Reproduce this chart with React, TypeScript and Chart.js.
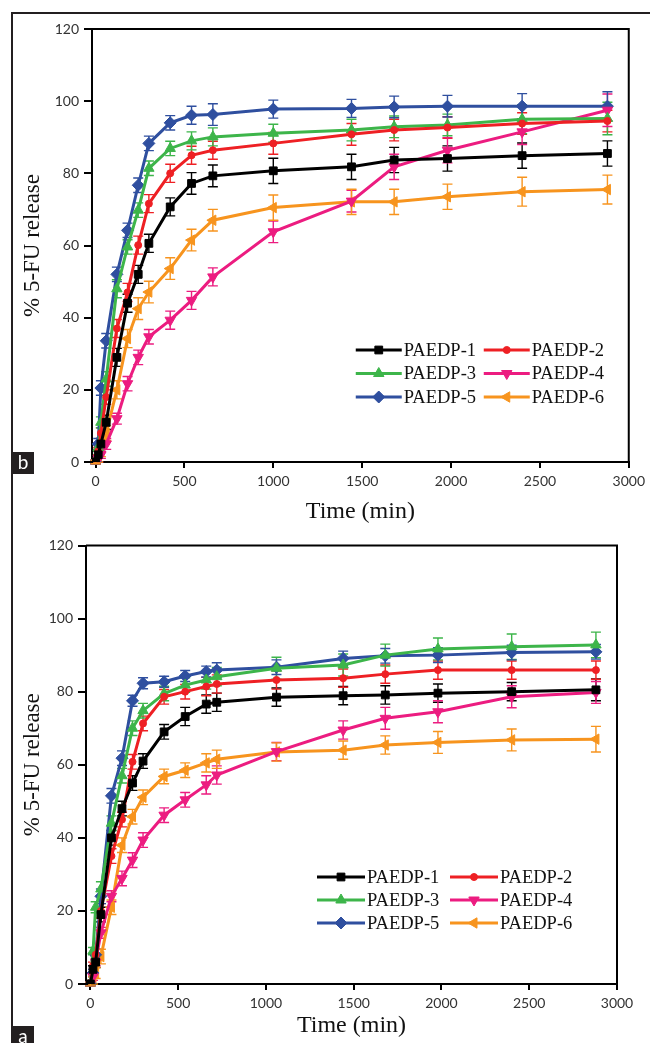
import React, { useEffect, useRef } from "react";
import { Chart, registerables } from "chart.js";
import { drawPoint } from "chart.js/helpers";

Chart.register(...registerables);

// ---------- shared ----------
const seriesNames = ["PAEDP-1", "PAEDP-2", "PAEDP-3", "PAEDP-4", "PAEDP-5", "PAEDP-6"];
const seriesColors = ["#000000", "#ee2024", "#3db54a", "#ec1c80", "#2f4f9f", "#f7941e"];
const pointStyles = ["rect", "circle", "triangle", "triangle", "rectRot", "triangle"];
const pointRotations = [0, 0, 0, 180, 0, 270];
const pointRadii = [5.5, 3.5, 6, 6, 6, 6];

const xTicks = [0, 500, 1000, 1500, 2000, 2500, 3000];
const yTicks = [0, 20, 40, 60, 80, 100, 120];
const xTitle = "Time (min)";
const yTitle = "% 5-FU release";

// ---------- panel b (top) ----------
const timesB = [0, 15, 30, 60, 120, 180, 240, 300, 420, 540, 660, 1000, 1440, 1680, 1980, 2400, 2880];
const b1 = [0, 2, 5, 11, 29, 44, 52, 60.6, 70.7, 77.2, 79.3, 80.7, 81.8, 83.7, 84.1, 84.9, 85.5];
const b2 = [0, 3, 8, 18, 37, 47, 60.1, 71.6, 80, 85, 86.4, 88.3, 90.8, 92.0, 92.7, 93.8, 94.5];
const b3 = [0, 4, 11, 23, 48, 59.6, 69.8, 81.4, 86.9, 89.0, 90.1, 91.1, 92.0, 92.9, 93.4, 95.0, 95.2];
const b4 = [0, 1, 2, 5, 12, 21.7, 29, 34.7, 39.3, 44.8, 51.3, 63.8, 72.3, 81.8, 86.4, 91.5, 97.5];
const b5 = [0, 5, 20.5, 33.6, 52, 64.2, 76.7, 88.3, 94.0, 96.1, 96.3, 97.8, 98.0, 98.4, 98.6, 98.6, 98.6];
const b6 = [0, 1, 3, 8, 20, 34.2, 42.5, 47.1, 53.6, 61.5, 67.0, 70.5, 72.1, 72.1, 73.5, 74.9, 75.5];
const eb1 = [0.5, 1, 1.5, 2, 2.5, 2.5, 2.5, 2.5, 2.5, 3, 3, 3.5, 3.5, 3.5, 3.5, 3.5, 3.5];
const eb2 = [0.5, 1, 1.5, 2, 2.5, 2.5, 2.5, 2.5, 2.5, 2.5, 2.5, 3, 3, 3, 3, 3, 3];
const eb3 = [0.5, 1, 1.5, 2, 2.5, 2, 2, 2, 2, 2.5, 2.5, 2.5, 3, 3, 3, 4, 4.5];
const eb4 = [0.5, 1, 1, 1.5, 1.5, 2, 2, 2, 2.5, 2.5, 2.5, 3, 3, 3.5, 3.5, 3.5, 4.5];
const eb5 = [0.5, 1.5, 2, 2, 2, 2, 2, 2, 2, 2.5, 3, 2.5, 2.5, 3, 3, 3.5, 4];
const eb6 = [0.5, 1, 1.5, 2, 2.5, 2.5, 3, 3, 3, 3, 3, 3.5, 3.5, 3.5, 3.5, 4, 4];

// ---------- panel a (bottom) ----------
const timesA = [0, 15, 30, 60, 120, 180, 240, 300, 420, 540, 660, 720, 1060, 1440, 1680, 1980, 2400, 2880];
const a1 = [0, 4, 6, 19, 40, 48, 55, 61, 69, 73.2, 76.6, 77.1, 78.5, 78.9, 79.1, 79.6, 80.0, 80.5];
const a2 = [0, 5, 8, 20, 35, 45, 60.8, 71.3, 78.6, 80.0, 81.4, 82.1, 83.2, 83.7, 84.8, 85.9, 85.9, 85.9];
const a3 = [0, 9, 21, 26, 44, 57, 70, 74.8, 79.5, 81.8, 83.2, 84.1, 86.4, 87.3, 90.0, 91.7, 92.3, 92.8];
const a4 = [0, 2, 6, 14, 24, 28.9, 33.9, 39.4, 46.2, 50.4, 54.5, 57.2, 63.6, 69.5, 72.7, 74.5, 78.6, 79.8];
const a5 = [0, 3, 8, 24, 51.5, 61.8, 77.5, 82.3, 82.7, 84.3, 85.5, 85.9, 86.7, 89.1, 89.8, 90.0, 90.7, 90.9];
const a6 = [0, 1, 3, 7.5, 21, 38, 45.8, 51.1, 56.8, 58.5, 60.5, 61.5, 63.5, 64.0, 65.4, 66.1, 66.8, 67.0];
const ea1 = [0.5, 1, 1.5, 2, 2, 2, 2, 2, 2, 2.5, 2.5, 2.5, 2.5, 2.5, 2.5, 2.5, 2.5, 3];
const ea2 = [0.5, 1, 1.5, 2, 2, 2, 2, 2, 2, 2, 2.5, 2.5, 2.5, 2.5, 2.5, 2.5, 2.5, 2.5];
const ea3 = [0.5, 1, 1.5, 2, 2, 2, 2, 2, 2, 2, 2.5, 2.5, 3, 3, 3, 3, 3.5, 3.5];
const ea4 = [0.5, 1, 1, 1.5, 1.5, 2, 2, 2, 2, 2, 2.5, 2.5, 2.5, 2.5, 3, 3, 3, 3];
const ea5 = [0.5, 1, 1.5, 2, 2, 2, 1.5, 1.5, 1.5, 1.5, 1.5, 2, 2, 2, 2, 2, 2, 2];
const ea6 = [0.5, 1, 1.5, 2, 2, 2, 2, 2, 2, 2, 2.5, 2.5, 2.5, 2.5, 2.5, 3, 3, 3.5];

const SERIF = "'Liberation Serif', 'Times New Roman', serif";
const SANS = "Lato, 'Open Sans', sans-serif";

const errorBarPlugin = {
  id: "errorBars",
  beforeDatasetsDraw(chart: any) {
    const { ctx } = chart;
    const xs = chart.scales.x;
    const ys = chart.scales.y;
    chart.data.datasets.forEach((ds: any) => {
      const errs: number[] = ds.errors || [];
      ctx.save();
      ctx.strokeStyle = ds.borderColor;
      ctx.lineWidth = 1.4;
      ds.data.forEach((p: any, j: number) => {
        const e = errs[j];
        if (!e) return;
        const px = xs.getPixelForValue(p.x);
        const y1 = ys.getPixelForValue(p.y - e);
        const y2 = ys.getPixelForValue(p.y + e);
        ctx.beginPath();
        ctx.moveTo(px, y1);
        ctx.lineTo(px, y2);
        ctx.moveTo(px - 5, y1);
        ctx.lineTo(px + 5, y1);
        ctx.moveTo(px - 5, y2);
        ctx.lineTo(px + 5, y2);
        ctx.stroke();
      });
      ctx.restore();
    });
  },
};

const boxPlugin = {
  id: "boxFrame",
  afterDraw(chart: any) {
    const { ctx, chartArea: a } = chart;
    ctx.save();
    ctx.strokeStyle = "#000";
    ctx.lineWidth = 2;
    ctx.beginPath();
    ctx.moveTo(a.left, a.top);
    ctx.lineTo(a.right, a.top);
    ctx.lineTo(a.right, a.bottom);
    ctx.stroke();
    ctx.restore();
  },
};

const legendPlugin = {
  id: "gridLegend",
  afterDraw(chart: any, _args: any, opts: any) {
    const { ctx, chartArea: a } = chart;
    ctx.save();
    ctx.font = `${opts.fontSize}px ${SERIF}`;
    ctx.textBaseline = "middle";
    ctx.textAlign = "left";
    chart.data.datasets.forEach((ds: any, i: number) => {
      const col = i % 2;
      const row = Math.floor(i / 2);
      const x0 = a.right + opts.x0 + col * opts.colW;
      const y = a.bottom + opts.y0 + row * opts.rowH;
      ctx.strokeStyle = ds.borderColor;
      ctx.lineWidth = 3;
      ctx.beginPath();
      ctx.moveTo(x0, y);
      ctx.lineTo(x0 + opts.lineLen, y);
      ctx.stroke();
      ctx.fillStyle = ds.borderColor;
      ctx.lineWidth = 1;
      drawPoint(ctx, { pointStyle: ds.pointStyle, rotation: ds.pointRotation, radius: ds.pointRadius, borderWidth: 1 }, x0 + opts.lineLen / 2, y);
      ctx.fillStyle = "#111";
      ctx.fillText(ds.label, x0 + opts.lineLen + 2, y + 1);
    });
    ctx.restore();
  },
};

type PanelProps = {
  times: number[];
  series: number[][];
  errors: number[][];
  top: number;
  height: number;
  padding: { left: number; right: number; top: number; bottom: number };
  yAxisWidth: number;
  xAxisHeight: number;
  xMin: number;
  xTitlePad: number;
  legend: { x0: number; y0: number; colW: number; rowH: number; lineLen: number; fontSize: number };
};

function Panel(props: PanelProps) {
  const ref = useRef<HTMLCanvasElement | null>(null);
  useEffect(() => {
    if (!ref.current) return;
    const datasets = props.series.map((vals, i) => ({
      label: seriesNames[i],
      data: props.times.map((t, j) => ({ x: t, y: vals[j] })),
      errors: props.errors[i],
      borderColor: seriesColors[i],
      backgroundColor: seriesColors[i],
      pointBackgroundColor: seriesColors[i],
      pointBorderColor: seriesColors[i],
      pointStyle: pointStyles[i],
      pointRotation: pointRotations[i],
      pointRadius: pointRadii[i],
      pointBorderWidth: 1,
      borderWidth: 3,
      tension: 0,
      fill: false,
    }));
    const chart = new Chart(ref.current, {
      type: "line",
      data: { datasets } as any,
      options: {
        animation: false,
        responsive: false,
        layout: { padding: props.padding },
        plugins: {
          legend: { display: false },
          tooltip: { enabled: false },
          gridLegend: props.legend,
        } as any,
        scales: {
          x: {
            type: "linear",
            min: props.xMin,
            max: 3000,
            afterBuildTicks: (s: any) => {
              s.ticks = xTicks.map((v) => ({ value: v }));
            },
            afterFit: (s: any) => {
              s.height = props.xAxisHeight;
            },
            grid: { display: true, drawOnChartArea: false, drawTicks: true, tickLength: 6, color: "#000", lineWidth: 2 },
            border: { display: true, color: "#000", width: 2 },
            ticks: {
              color: "#333",
              padding: 5,
              font: { family: SANS, size: 14 },
              maxRotation: 0,
              callback: (v: any) => String(v),
            },
            title: { display: true, text: xTitle, color: "#111", font: { family: SERIF, size: 24 }, padding: { top: 0, bottom: props.xTitlePad } },
          },
          y: {
            type: "linear",
            min: 0,
            max: 120,
            afterBuildTicks: (s: any) => {
              s.ticks = yTicks.map((v) => ({ value: v }));
            },
            afterFit: (s: any) => {
              s.width = props.yAxisWidth;
            },
            grid: { display: true, drawOnChartArea: false, drawTicks: true, tickLength: 8, color: "#000", lineWidth: 2 },
            border: { display: true, color: "#000", width: 2 },
            ticks: { color: "#333", padding: 5, font: { family: SANS, size: 14 }, callback: (v: any) => String(v) },
            title: { display: true, text: yTitle, color: "#111", font: { family: SERIF, size: 23 }, padding: { top: 19, bottom: 0 } },
          },
        },
      } as any,
      plugins: [errorBarPlugin, boxPlugin, legendPlugin],
    });
    return () => chart.destroy();
  }, []);
  return (
    <div style={{ position: "absolute", left: 0, top: props.top, width: 650, height: props.height }}>
      <canvas ref={ref} width={650} height={props.height} style={{ display: "block" }} />
    </div>
  );
}

function Tag({ text, top }: { text: string; top: number }) {
  return (
    <div
      style={{
        position: "absolute",
        left: 12,
        top,
        width: 22,
        height: 22,
        background: "#231f20",
        color: "#fff",
        fontFamily: SANS,
        fontSize: 19,
        lineHeight: "20px",
        textAlign: "center",
      }}
    >
      {text}
    </div>
  );
}

export default function App() {
  return (
    <div style={{ position: "fixed", left: 0, top: 0, width: 650, height: 1043, background: "#fff", overflow: "hidden" }}>
      <Panel
        times={timesB}
        series={[b1, b2, b3, b4, b5, b6]}
        errors={[eb1, eb2, eb3, eb4, eb5, eb6]}
        top={0}
        height={530}
        padding={{ left: 0, right: 20, top: 29, bottom: 0 }}
        yAxisWidth={92}
        xAxisHeight={68}
        xMin={-20}
        xTitlePad={4}
        legend={{ x0: -273, y0: -112, colW: 128, rowH: 23.5, lineLen: 46, fontSize: 18.5 }}
      />
      <Panel
        times={timesA}
        series={[a1, a2, a3, a4, a5, a6]}
        errors={[ea1, ea2, ea3, ea4, ea5, ea6]}
        top={530}
        height={513}
        padding={{ left: 0, right: 33, top: 15.5, bottom: 0 }}
        yAxisWidth={86}
        xAxisHeight={59}
        xMin={-25}
        xTitlePad={3}
        legend={{ x0: -300, y0: -107, colW: 133, rowH: 23, lineLen: 48, fontSize: 18.5 }}
      />
      <div style={{ position: "absolute", left: 11, top: 12, width: 639, height: 2, background: "#231f20" }} />
      <div style={{ position: "absolute", left: 11, top: 12, width: 2, height: 1031, background: "#231f20" }} />
      <Tag text="b" top={452} />
      <Tag text="a" top={1026} />
    </div>
  );
}
